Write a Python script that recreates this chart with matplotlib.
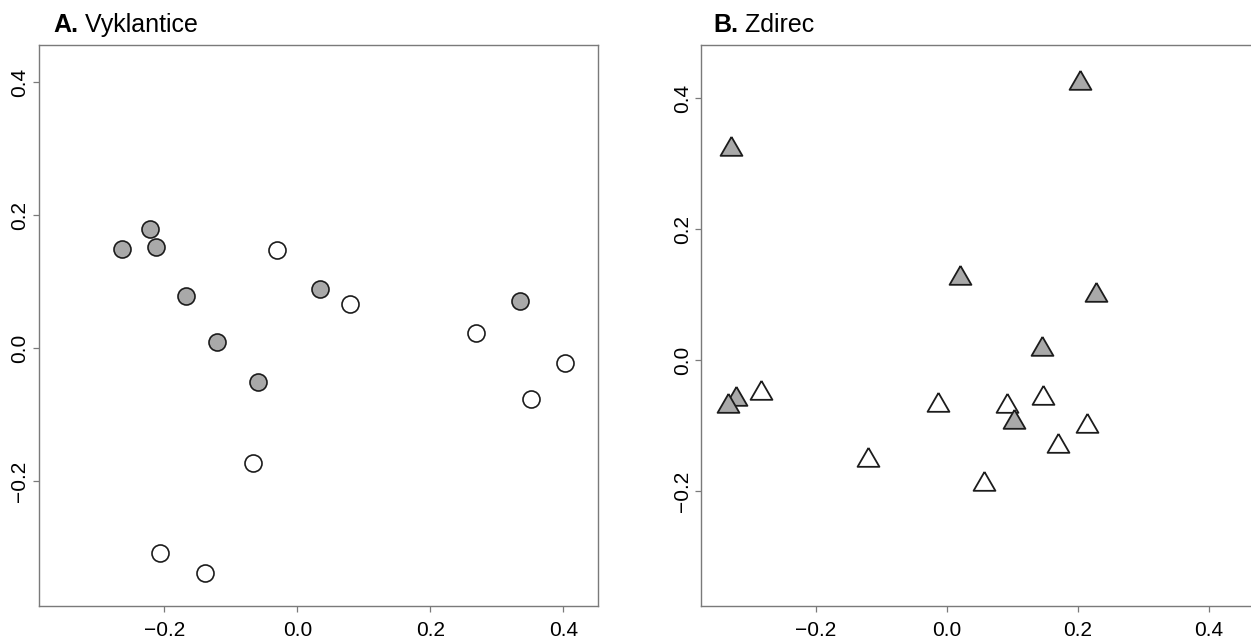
import matplotlib
matplotlib.use('Agg')
import matplotlib.pyplot as plt

plt.rcParams['font.family'] = ['Liberation Sans', 'DejaVu Sans']

# Panel A - Vyklantice (circles)
vyk_gray_x = [-0.264, -0.222, -0.213, -0.168, 0.034, -0.121, -0.059, 0.335]
vyk_gray_y = [0.149, 0.179, 0.152, 0.079, 0.089, 0.009, -0.051, 0.071]
vyk_white_x = [-0.030, 0.079, 0.268, 0.402, 0.352, -0.066, -0.206, -0.139]
vyk_white_y = [0.147, 0.066, 0.023, -0.023, -0.077, -0.173, -0.308, -0.339]

# Panel B - Zdirec (triangles)
zd_gray_x = [-0.330, 0.203, 0.020, 0.228, 0.145, -0.322, -0.335, 0.103]
zd_gray_y = [0.322, 0.423, 0.125, 0.100, 0.017, -0.059, -0.070, -0.094]
zd_white_x = [-0.284, -0.121, -0.014, 0.057, 0.092, 0.146, 0.214, 0.170]
zd_white_y = [-0.050, -0.153, -0.068, -0.189, -0.070, -0.058, -0.100, -0.131]

ticks = [-0.2, 0.0, 0.2, 0.4]
tick_labels = ['\u22120.2', '0.0', '0.2', '0.4']

# R style equilateral triangle (pch 24), centred on the centroid
tri = [(0, 1.555), (-1.347, -0.778), (1.347, -0.778), (0, 1.555)]

gray = '#a9a9a9'
edge = '#1c1c1c'
spine = '#7a7a7a'

fig = plt.figure(figsize=(12.51, 6.38), dpi=100)
ax1 = fig.add_axes([38.5 / 1251, 32 / 638, 559.5 / 1251, 561 / 638])
ax2 = fig.add_axes([701 / 1251, 32 / 638, 561 / 1251, 561 / 638])


def style(ax, xlim, ylim):
    ax.set_xlim(xlim)
    ax.set_ylim(ylim)
    ax.set_xticks(ticks)
    ax.set_xticklabels(tick_labels)
    ax.set_yticks(ticks)
    ax.set_yticklabels(tick_labels)
    ax.tick_params(axis='both', length=4.5, width=0.9, color=spine, labelsize=15)
    ax.tick_params(axis='x', pad=6.5)
    ax.tick_params(axis='y', pad=2, labelrotation=90)
    for lab in ax.get_yticklabels():
        lab.set_va('center')
    for s in ax.spines.values():
        s.set_color(spine)
        s.set_linewidth(1.0)


# circles
ax1.scatter(vyk_white_x, vyk_white_y, s=150, facecolor='white', edgecolor=edge, linewidth=1.2, zorder=3)
ax1.scatter(vyk_gray_x, vyk_gray_y, s=150, facecolor=gray, edgecolor=edge, linewidth=1.2, zorder=3)
style(ax1, (-0.389, 0.452), (-0.388, 0.456))

# triangles
ax2.scatter(zd_white_x, zd_white_y, s=330, marker=tri, facecolor='white', edgecolor=edge, linewidth=1.3, zorder=3)
ax2.scatter(zd_gray_x, zd_gray_y, s=330, marker=tri, facecolor=gray, edgecolor=edge, linewidth=1.3, zorder=3)
style(ax2, (-0.3756, 0.481), (-0.3756, 0.481))

# panel titles: bold letter followed by site name
for x0, letter, name in [(53, 'A.', 'Vyklantice'), (713, 'B.', 'Zdirec')]:
    t = fig.text(x0 / 1251, (638 - 32) / 638, letter, fontsize=18, fontweight='bold', va='baseline')
    fig.add_artist(matplotlib.text.Annotation(' ' + name, xy=(1, 0), xycoords=t, fontsize=18,
                                              va='bottom', ha='left', annotation_clip=False))

fig.savefig('out.png', dpi=100)
